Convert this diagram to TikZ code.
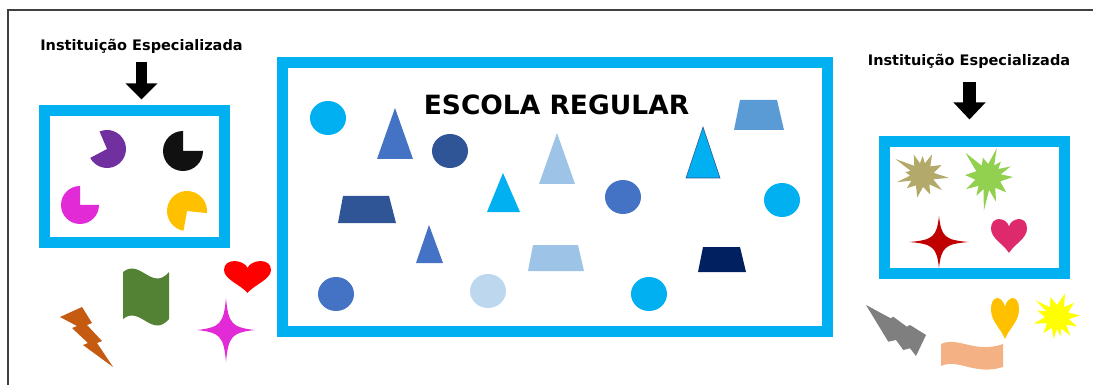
\documentclass[tikz,border=0pt]{standalone}
\usepackage{fontspec}
\setmainfont{DejaVu Sans}
\usetikzlibrary{arrows.meta}
\definecolor{cyanbox}{HTML}{00B0F0}
\definecolor{blueA}{HTML}{4472C4}
\definecolor{blueDark}{HTML}{2F5597}
\definecolor{blueLight}{HTML}{9DC3E6}
\definecolor{bluePale}{HTML}{BDD7EE}
\definecolor{blueMid}{HTML}{5B9BD5}
\definecolor{navy}{HTML}{002060}
\definecolor{pacPurple}{HTML}{7030A0}
\definecolor{pacBlack}{HTML}{111111}
\definecolor{pacMagenta}{HTML}{E22BD6}
\definecolor{pacYellow}{HTML}{FFC000}
\definecolor{boltBrown}{HTML}{C55A11}
\definecolor{flagGreen}{HTML}{548235}
\definecolor{heartRed}{HTML}{FF0000}
\definecolor{burstOlive}{HTML}{B3A96A}
\definecolor{burstGreen}{HTML}{92D050}
\definecolor{starRed}{HTML}{C00000}
\definecolor{heartCrimson}{HTML}{DE2A6C}
\definecolor{boltGray}{HTML}{7F7F7F}
\definecolor{wavePeach}{HTML}{F4B183}
\definecolor{burstYellow}{HTML}{FFFF00}
\definecolor{frameGray}{HTML}{404040}
\newcommand\myheart{(0,0.4) .. controls (-0.15,0.0) and (-1,-0.1) .. (-1,0.5) .. controls (-1,0.95) and (-0.3,1.2) .. (0,1.6) .. controls (0.3,1.2) and (1,0.95) .. (1,0.5) .. controls (1,-0.1) and (0.15,0.0) .. (0,0.4) -- cycle}
\newcommand\mystarfour{(1,0) .. controls (0.2,0.08) and (0.08,0.2) .. (0,1) .. controls (-0.08,0.2) and (-0.2,0.08) .. (-1,0) .. controls (-0.2,-0.08) and (-0.08,-0.2) .. (0,-1) .. controls (0.08,-0.2) and (0.2,-0.08) .. (1,0) -- cycle}
\begin{document}
\begin{tikzpicture}[x=1pt,y=-1pt,
  cbox/.style={draw=cyanbox,line width=11pt,rectangle,inner sep=0pt,outer sep=0pt},
  label/.style={font=\fontsize{14.5}{16}\selectfont\bfseries,inner sep=0pt,anchor=base},
  title/.style={font=\fontsize{26.5}{30}\selectfont\bfseries,inner sep=0pt,anchor=base},
  blockarrow/.style={line width=11pt,-{Triangle[width=31pt,length=16pt]}},
  ell/.style={x radius=18,y radius=17}]
\useasboundingbox (0,0) rectangle (1093,385);
\draw[frameGray,line width=1.5pt] (8,400) -- (8,10) -- (1100,10);
% boxes
\node[cbox,minimum width=180pt,minimum height=132pt] (leftbox) at (134.5,176.5) {};
\node[cbox,minimum width=545pt,minimum height=269pt] (midbox) at (555,197) {};
\node[cbox,minimum width=180pt,minimum height=132pt] (rightbox) at (974.5,207.5) {};
% labels
\node[label] (leftlabel) at (141.5,50.5) {Instituição Especializada};
\node[label] (rightlabel) at (969,65.5) {Instituição Especializada};
\node[title] (titletext) at (556.5,115) {ESCOLA REGULAR};
% arrows
\coordinate (la1) at (141.5,62);
\coordinate (la2) at (141.5,99.5);
\coordinate (ra1) at (969.5,82);
\coordinate (ra2) at (969.5,119.5);
\draw[blockarrow,line width=11pt] (la1) -- (la2);
\draw[blockarrow,line width=13pt,-{Triangle[width=31pt,length=17pt]}] (ra1) -- (ra2);
% pacmen
\fill[pacPurple] (107,149) -- ++(-208:19) arc[start angle=-208,end angle=-473,radius=19] -- cycle;
\fill[pacBlack] (183,151) -- ++(-90:20) arc[start angle=-90,end angle=-360,radius=20] -- cycle;
\fill[pacMagenta] (80,205) -- ++(-90:19) arc[start angle=-90,end angle=-360,radius=19] -- cycle;
\fill[pacYellow] (187,211) -- ++(6:20) arc[start angle=6,end angle=-260,radius=20] -- cycle;
% left loose shapes
\fill[boltBrown] (60,317) -- (82,307) -- (92,323) -- (87,325) -- (102,341) -- (97,343) -- (113,367) -- (83,345) -- (88,343) -- (72,328) -- (77,326) -- cycle;
\fill[flagGreen] (123,272) .. controls (140,258) and (152,292) .. (169,272) -- (169,319) .. controls (152,339) and (140,305) .. (123,319) -- cycle;
\begin{scope}[shift={(247.5,259.5)},xscale=23.5,yscale=20.9]
\fill[heartRed] \myheart;
\end{scope}
\begin{scope}[shift={(226,330)},xscale=29,yscale=32]
\fill[pacMagenta] \mystarfour;
\end{scope}
% middle shapes
\fill[cyanbox] (328,118) ellipse[ell];
\fill[blueA] (395,108) -- (413,159) -- (377,159) -- cycle;
\fill[blueDark] (450,151) ellipse[ell];
\fill[blueDark] (343,196) -- (389,196) -- (396,223) -- (338,223) -- cycle;
\fill[blueLight] (557,133) -- (575,184) -- (539,184) -- cycle;
\fill[cyanbox] (503,173) -- (520,212) -- (487,212) -- cycle;
\fill[blueA] (429,225) -- (443,263) -- (416,263) -- cycle;
\fill[blueLight] (533,245) -- (578,245) -- (584,271) -- (528,271) -- cycle;
\fill[blueA] (336,294) ellipse[ell];
\fill[bluePale] (488,291) ellipse[ell];
\fill[blueMid] (740,100) -- (777,100) -- (784,130) -- (734,130) -- cycle;
\filldraw[fill=cyanbox,draw=blueDark,line width=0.6pt] (703,127) -- (720,178) -- (686,178) -- cycle;
\fill[blueA] (623,197) ellipse[ell];
\fill[cyanbox] (782,200) ellipse[ell];
\fill[navy] (703,247) -- (740,247) -- (746,272) -- (698,272) -- cycle;
\fill[cyanbox] (649,294) ellipse[ell];
% right box shapes
\begin{scope}[shift={(922,175)}]
\fill[burstOlive] (6:27) -- (21:12) -- (37:25) -- (52:12) -- (67:21) -- (85:12) -- (102:23) -- (120:12) -- (139:20) -- (152:12) -- (164:26) -- (177:12) -- (190:17) -- (200:12) -- (211:31) -- (230:12) -- (248:22) -- (260:12) -- (272:19) -- (284:12) -- (296:23) -- (314:12) -- (333:22) -- (350:12) -- cycle;
\end{scope}
\begin{scope}[shift={(988,177)}]
\fill[burstGreen] (0:25) -- (20:13) -- (40:24) -- (56:13) -- (72:26) -- (85:13) -- (97:34) -- (110:13) -- (122:22) -- (137:13) -- (151:25) -- (168:13) -- (185:23) -- (206:13) -- (227:33) -- (241:13) -- (255:20) -- (271:13) -- (287:30) -- (298:13) -- (310:20) -- (322:13) -- (335:25) -- (348:13) -- cycle;
\end{scope}
\begin{scope}[shift={(939,242)},xscale=29.5,yscale=26]
\fill[starRed] \mystarfour;
\end{scope}
\begin{scope}[shift={(1009,217.4)},xscale=18,yscale=22.2]
\fill[heartCrimson] \myheart;
\end{scope}
% right loose shapes
\fill[boltGray] (866,305) -- (890.7,318.3) -- (893.3,316.7) -- (906.7,326.7) -- (910,325) -- (926,335) -- (916,356) -- (910,348.3) -- (903.3,350) -- (896,340) -- (888.3,341.7) -- cycle;
\fill[wavePeach] (941,344) .. controls (958,336) and (975,354) .. (1003,344) -- (1003,367) .. controls (975,376) and (958,358) .. (941,366) -- cycle;
\begin{scope}[shift={(1005,296.1)},xscale=14,yscale=26.8]
\fill[pacYellow] \myheart;
\end{scope}
\begin{scope}[shift={(1057,317)}]
\fill[burstYellow] (356:23) -- (10:12) -- (25:22) -- (40:12) -- (55:23) -- (70:12) -- (80:20) -- (90:12) -- (99:22) -- (115:12) -- (130:21) -- (148:12) -- (164:24) -- (180:12) -- (198:21) -- (208:12) -- (218:27) -- (234:12) -- (252:21) -- (270:12) -- (289:25) -- (305:12) -- (320:22) -- (338:12) -- cycle;
\end{scope}
\end{tikzpicture}
\end{document}
